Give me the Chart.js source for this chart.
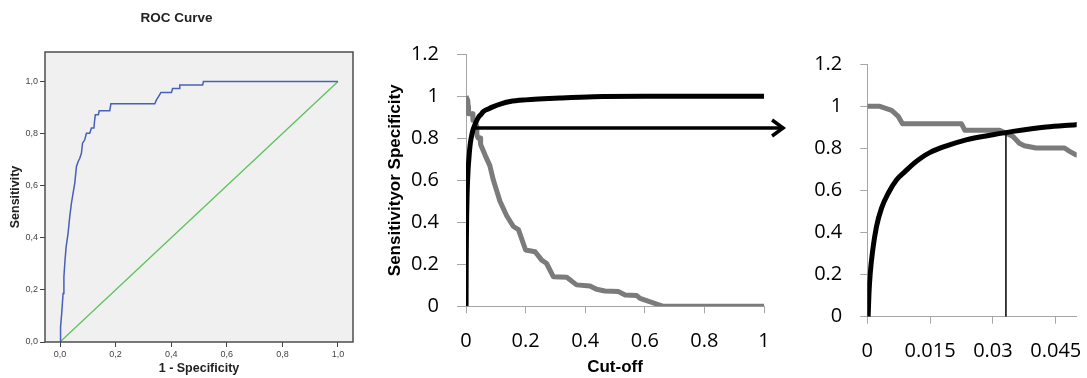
<!DOCTYPE html>
<html lang="en">

<head>
    <meta charset="UTF-8">
    <meta name="viewport" content="width=device-width, initial-scale=1.0">
    <script src="https://cdn.jsdelivr.net/npm/chart.js"></script>
    <title>ROC curve and cut-off</title>
    <style>
        body { margin: 0; background: #fff; }
        .painel { position: absolute; top: 0; }
    </style>
</head>

<body>
    <canvas id="grafRoc" class="painel" style="left:0px" width="360" height="378"></canvas>
    <canvas id="grafCorte" class="painel" style="left:360px" width="430" height="378"></canvas>
    <canvas id="grafZoom" class="painel" style="left:790px" width="297" height="378"></canvas>

<script>
    // ROC curve (1 - specificity, sensitivity)
    const rocFpr = [0, 0.002, 0.006, 0.011, 0.014, 0.018, 0.022, 0.029, 0.035, 0.041,
        0.047, 0.053, 0.059, 0.065, 0.071, 0.077, 0.081, 0.089, 0.095, 0.107,
        0.113, 0.122, 0.124, 0.127, 0.138, 0.141, 0.179, 0.183, 0.341, 0.347,
        0.356, 0.363, 0.401, 0.405, 0.429, 0.431, 0.513, 0.516, 1];
    const rocTpr = [0, 0.058, 0.109, 0.186, 0.25, 0.314, 0.365, 0.417, 0.481, 0.532,
        0.571, 0.609, 0.673, 0.692, 0.705, 0.724, 0.763, 0.776, 0.801, 0.801,
        0.821, 0.821, 0.846, 0.872, 0.872, 0.888, 0.888, 0.914, 0.914, 0.929,
        0.945, 0.958, 0.958, 0.973, 0.973, 0.986, 0.986, 1, 1];
    const diagX = [0, 1];
    const diagY = [0, 1];
    const rocTicks = [0, 0.2, 0.4, 0.6, 0.8, 1];

    // black curve (rises with cut-off)
    const specCorte = [0.0002, 0.0004, 0.0007, 0.0013, 0.0022, 0.0034, 0.005, 0.007, 0.009, 0.011,
        0.0129, 0.0149, 0.0189, 0.0236, 0.03, 0.0348, 0.0427, 0.0498, 0.058, 0.075,
        0.092, 0.12, 0.148, 0.2, 0.26, 0.315, 0.427, 0.6, 0.8, 1];
    const specValor = [0, 0.111, 0.206, 0.317, 0.429, 0.516, 0.587, 0.651, 0.69, 0.727,
        0.756, 0.78, 0.812, 0.841, 0.865, 0.881, 0.902, 0.913, 0.927, 0.94,
        0.951, 0.965, 0.975, 0.983, 0.988, 0.992, 0.998, 1, 1, 1];

    // grey curve (falls with cut-off)
    const sensCorte = [0, 0.003, 0.0058, 0.0074, 0.0084, 0.0225, 0.0233, 0.0316, 0.0348, 0.0363,
        0.0375, 0.0403, 0.0471, 0.0483, 0.0498, 0.064, 0.08, 0.092, 0.114, 0.137,
        0.159, 0.176, 0.2, 0.232, 0.254, 0.27, 0.293, 0.338, 0.371, 0.416,
        0.438, 0.466, 0.511, 0.534, 0.573, 0.584, 0.662, 1];
    const sensValor = [1, 1, 0.981, 0.952, 0.917, 0.917, 0.886, 0.886, 0.857, 0.825,
        0.813, 0.802, 0.802, 0.786, 0.77, 0.72, 0.67, 0.6, 0.5, 0.43,
        0.38, 0.365, 0.268, 0.26, 0.22, 0.205, 0.141, 0.138, 0.102, 0.097,
        0.081, 0.073, 0.07, 0.054, 0.051, 0.038, 0, 0];

    // arrow pointing to the zoomed panel, and the chosen cut-off
    const setaX = [0.03, 1.064];
    const setaY = [0.849, 0.849];
    const pontaX = [1.027, 1.064, 1.027];
    const pontaY = [0.887, 0.849, 0.811];
    const corteX = [0.0331, 0.0331];
    const corteY = [0, 0.878];

    const corteTicksX = [0, 0.2, 0.4, 0.6, 0.8, 1];
    const corteTicksY = [0, 0.2, 0.4, 0.6, 0.8, 1, 1.2];
    const zoomTicksX = [0, 0.015, 0.03, 0.045];

    function pontos(xs, ys) {
        return xs.map((x, i) => ({ x: x, y: ys[i] }));
    }

    function fixarTicks(valores) {
        return function (escala) {
            escala.ticks = valores.map(v => ({ value: v }));
        };
    }

    // fixed axis size, no extra padding for the labels
    function tamanhoX(altura) {
        return function (s) {
            s.height = altura;
            s.paddingLeft = 0;
            s.paddingRight = 0;
        };
    }

    function tamanhoY(largura) {
        return function (s) {
            s.width = largura;
            s.paddingTop = 0;
            s.paddingBottom = 0;
        };
    }

    const FONTE_SPSS = 'Liberation Sans, Arial, sans-serif';
    const FONTE_EXCEL = 'Open Sans, Liberation Sans, sans-serif';

    // grey box behind the SPSS plot
    const caixaPlugin = {
        id: 'caixa',
        beforeDatasetsDraw(chart) {
            const a = chart.chartArea;
            const ctx = chart.ctx;
            ctx.save();
            ctx.fillStyle = '#f0f0f0';
            ctx.fillRect(a.left, a.top, a.right - a.left, a.bottom - a.top);
            ctx.restore();
        },
        afterDraw(chart) {
            const a = chart.chartArea;
            const ctx = chart.ctx;
            ctx.save();
            ctx.strokeStyle = '#4d4d4d';
            ctx.lineWidth = 1.5;
            ctx.strokeRect(a.left, a.top, a.right - a.left, a.bottom - a.top);
            ctx.restore();
        }
    };

    Chart.defaults.animation = false;
    Chart.defaults.responsive = false;
    Chart.defaults.plugins.legend.display = false;
    Chart.defaults.plugins.tooltip.enabled = false;

    // painel 1 - ROC
    new Chart(document.getElementById('grafRoc'), {
        type: 'scatter',
        data: {
            datasets: [{
                data: pontos(rocFpr, rocTpr),
                showLine: true,
                borderColor: '#4760b8',
                borderWidth: 1.5,
                pointRadius: 0
            }, {
                data: pontos(diagX, diagY),
                showLine: true,
                borderColor: '#5cc35c',
                borderWidth: 1.3,
                pointRadius: 0
            }]
        },
        options: {
            layout: { padding: { left: 0, right: 7, top: 0, bottom: 0 } },
            plugins: {
                title: {
                    display: true,
                    text: 'ROC Curve',
                    color: '#222',
                    font: { family: FONTE_SPSS, size: 13.5, weight: 'bold' },
                    padding: { top: 10.5, bottom: 25.3 }
                }
            },
            scales: {
                x: {
                    type: 'linear',
                    min: -0.054,
                    max: 1.054,
                    afterBuildTicks: fixarTicks(rocTicks),
                    afterFit: tamanhoX(36),
                    border: { display: false },
                    grid: { drawOnChartArea: false, color: '#444', tickLength: 5 },
                    ticks: {
                        color: '#444',
                        padding: 2.5,
                        font: { family: FONTE_SPSS, size: 9 },
                        callback: v => v.toFixed(1).replace('.', ',')
                    },
                    title: {
                        display: true,
                        text: '1 - Specificity',
                        color: '#222',
                        font: { family: FONTE_SPSS, size: 12.5, weight: 'bold' },
                        padding: { top: 0, bottom: 1.5 }
                    }
                },
                y: {
                    type: 'linear',
                    min: 0,
                    max: 1.113,
                    afterBuildTicks: fixarTicks(rocTicks),
                    afterFit: tamanhoY(45),
                    border: { display: false },
                    grid: { drawOnChartArea: false, color: '#444', tickLength: 5 },
                    ticks: {
                        color: '#444',
                        padding: 2,
                        font: { family: FONTE_SPSS, size: 9 },
                        callback: v => v.toFixed(1).replace('.', ',')
                    },
                    title: {
                        display: true,
                        text: 'Sensitivity',
                        color: '#222',
                        font: { family: FONTE_SPSS, size: 12.5, weight: 'bold' },
                        padding: { top: 8.5, bottom: 0 }
                    }
                }
            }
        },
        plugins: [caixaPlugin]
    });

    function linhasCorte(comSeta) {
        const ds = [];
        if (comSeta) {
            ds.push({
                data: pontos(setaX, setaY), showLine: true, borderColor: '#000',
                borderWidth: 3.5, pointRadius: 0, clip: false
            });
            ds.push({
                data: pontos(pontaX, pontaY), showLine: true, borderColor: '#000',
                borderWidth: 3.5, pointRadius: 0, clip: false, borderJoinStyle: 'miter'
            });
        } else {
            ds.push({
                data: pontos(corteX, corteY), showLine: true, borderColor: '#000',
                borderWidth: 1.5, pointRadius: 0
            });
        }
        ds.push({
            data: pontos(specCorte, specValor), showLine: true, borderColor: '#000',
            borderWidth: 5, pointRadius: 0, borderJoinStyle: 'round',
            cubicInterpolationMode: 'monotone'
        });
        ds.push({
            data: pontos(sensCorte, sensValor), showLine: true, borderColor: '#7b7b7b',
            borderWidth: 5, pointRadius: 0, borderJoinStyle: 'round'
        });
        return ds;
    }

    function eixoExcel(opcoes) {
        return Object.assign({
            type: 'linear',
            border: { display: true, color: '#a6a6a6' },
            grid: { drawOnChartArea: false, color: '#a6a6a6', tickLength: 7 },
            ticks: { color: '#000', padding: 16, font: { family: FONTE_EXCEL, size: 20 }, callback: v => String(v) }
        }, opcoes);
    }

    // painel 2 - cut-off
    new Chart(document.getElementById('grafCorte'), {
        type: 'scatter',
        data: { datasets: linhasCorte(true) },
        options: {
            layout: { padding: { left: 0, right: 26, top: 54.3, bottom: 0 } },
            scales: {
                x: eixoExcel({
                    min: 0, max: 1,
                    afterBuildTicks: fixarTicks(corteTicksX),
                    afterFit: tamanhoX(71.7),
                    title: {
                        display: true, text: 'Cut-off', color: '#000',
                        font: { family: FONTE_SPSS, size: 17, weight: 'bold' },
                        padding: { top: 0, bottom: 0 }
                    }
                }),
                y: eixoExcel({
                    min: 0, max: 1.2,
                    afterBuildTicks: fixarTicks(corteTicksY),
                    afterFit: tamanhoY(106),
                    grid: { drawOnChartArea: false, color: '#a6a6a6', tickLength: 9 },
                    ticks: { color: '#000', padding: 18, font: { family: FONTE_EXCEL, size: 20 }, callback: v => String(v) },
                    title: {
                        display: true, text: 'Sensitivityor Specificity', color: '#000',
                        font: { family: FONTE_SPSS, size: 17, weight: 'bold' },
                        padding: { top: 24.8, bottom: 0 }
                    }
                })
            }
        }
    });

    // painel 3 - zoom near zero
    new Chart(document.getElementById('grafZoom'), {
        type: 'scatter',
        data: { datasets: linhasCorte(false) },
        options: {
            layout: { padding: { left: 0, right: 10.3, top: 64.3, bottom: 0 } },
            scales: {
                x: eixoExcel({
                    min: 0, max: 0.05,
                    afterBuildTicks: fixarTicks(zoomTicksX),
                    afterFit: tamanhoX(61.3)
                }),
                y: eixoExcel({
                    min: 0, max: 1.2,
                    afterBuildTicks: fixarTicks(corteTicksY),
                    afterFit: tamanhoY(77.3),
                    ticks: { color: '#000', padding: 18, font: { family: FONTE_EXCEL, size: 20 }, callback: v => String(v) }
                })
            }
        }
    });
</script>
</body>

</html>
